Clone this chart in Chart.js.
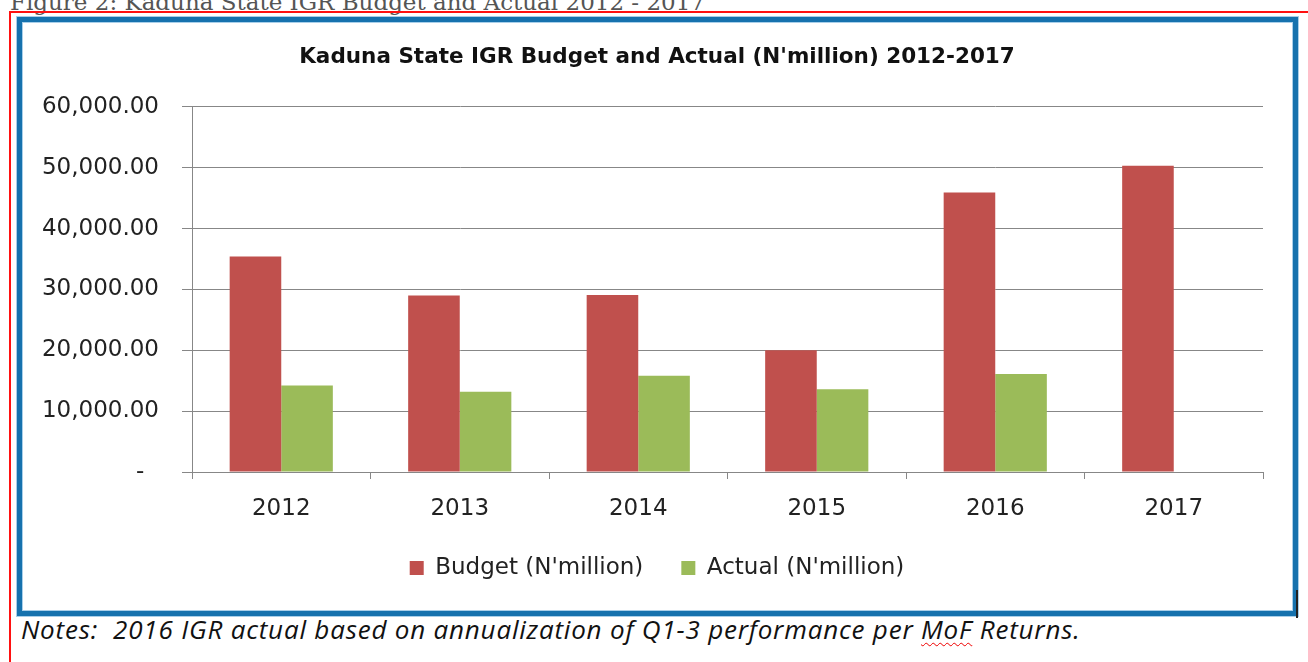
<!DOCTYPE html>
<html>
<head>
<meta charset="utf-8">
<script src="https://cdn.jsdelivr.net/npm/chart.js@4/dist/chart.umd.min.js"></script>
<style>
  body { margin: 0; background: #fff; width: 1308px; height: 662px; overflow: hidden; position: relative; }
  #caption { position: absolute; left: 10px; top: -9px; font: 23px/1 "DejaVu Serif", serif; color: #555; white-space: nowrap; }
  #redbox { position: absolute; left: 9px; top: 11px; width: 1320px; height: 700px; border-top: 2px solid #f11; border-left: 2px solid #f11; }
  #frame { position: absolute; left: 17px; top: 17px; width: 1281px; height: 599px; box-sizing: border-box;
           border: 5px solid #1672ae; box-shadow: 0 0 0 1px #a9cfe9, inset 0 0 0 1px #a9cfe9; background: #fff; }
  #wrap { position: absolute; left: 23px; top: 23px; }
  #mark { position: absolute; left: 1296px; top: 590px; width: 2px; height: 28px; background: #222; }
  #notes { position: absolute; left: 21px; top: 616px; font: italic 26px/1 "Open Sans", sans-serif; letter-spacing: 0.8px; color: #111; white-space: nowrap; }
  .spell { text-decoration: underline wavy #e00; text-decoration-thickness: 1px; text-underline-offset: 3px; }
</style>
</head>
<body>
<div id="caption">Figure 2: Kaduna State IGR Budget and Actual 2012 - 2017</div>
<div id="redbox"></div>
<div id="frame"></div>
<div id="wrap"><canvas id="igrChart" width="1268" height="587"></canvas></div>
<div id="mark"></div>
<div id="notes">Notes:&nbsp; 2016 IGR actual based on annualization of Q1-3 performance per <span class="spell">MoF</span> Returns.</div>
<script>
// Kaduna State IGR budget vs actual (N'million)
var years = ['2012', '2013', '2014', '2015', '2016', '2017'];
var budget = [35400, 29000, 29100, 20000, 45900, 50300];
var actual = [14200, 13200, 15800, 13600, 16100, null];

var axisFont = { family: 'DejaVu Sans', size: 23 };
var gridGray = '#878787';

var ctx = document.getElementById('igrChart').getContext('2d');
var igrChart = new Chart(ctx, {
  type: 'bar',
  data: {
    labels: years,
    datasets: [{
      label: "Budget (N'million)",
      data: budget,
      backgroundColor: '#C0504D'
    }, {
      label: "Actual (N'million)",
      data: actual,
      backgroundColor: '#9BBB59'
    }]
  },
  options: {
    responsive: false,
    animation: false,
    categoryPercentage: 0.578,
    barPercentage: 1.0,
    layout: {
      padding: { left: 0, right: 0, top: 0, bottom: 20.5 }
    },
    plugins: {
      title: {
        display: true,
        text: "Kaduna State IGR Budget and Actual (N'million) 2012-2017",
        color: '#111',
        font: { family: 'DejaVu Sans', size: 21.5, weight: 'bold' },
        padding: { top: 22, bottom: 36 }
      },
      legend: {
        position: 'bottom',
        labels: {
          color: '#222',
          font: axisFont,
          boxWidth: 14,
          boxHeight: 14,
          padding: 38
        }
      },
      tooltip: { enabled: false }
    },
    scales: {
      y: {
        min: 0,
        max: 60000,
        ticks: {
          stepSize: 10000,
          color: '#222',
          font: axisFont,
          padding: 23,
          callback: function (v) {
            if (v === 0) return '-  ';
            return v.toLocaleString('en-US', { minimumFractionDigits: 2, maximumFractionDigits: 2 });
          }
        },
        grid: { color: gridGray, tickLength: 10, lineWidth: 1 },
        border: { color: gridGray },
        afterFit: function (s) { s.width = 169; }
      },
      // empty right-hand spacer so the plot ends short of the frame
      spacer: {
        type: 'linear',
        position: 'right',
        ticks: { display: false },
        grid: { display: false },
        border: { display: false },
        afterFit: function (s) { s.width = 28; }
      },
      x: {
        ticks: { color: '#222', font: { family: 'DejaVu Sans', size: 23, lineHeight: 0.8 }, padding: 21 },
        grid: { drawOnChartArea: false, color: gridGray, tickLength: 7 },
        border: { color: gridGray },
        afterFit: function (s) { s.height = 46.5; }
      }
    }
  }
});
</script>
</body>
</html>
